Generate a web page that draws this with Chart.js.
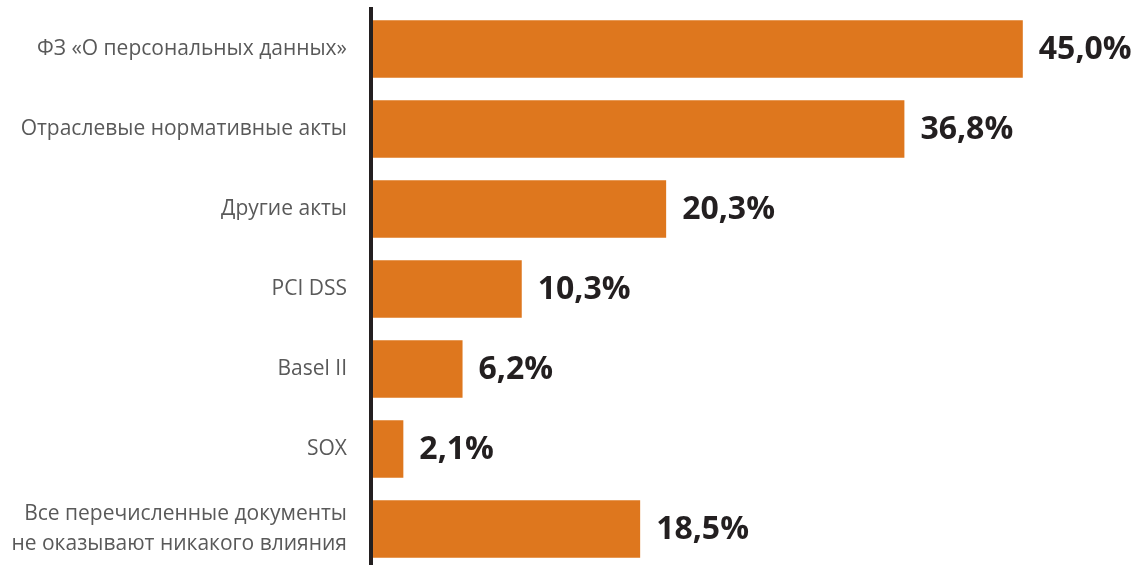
<!DOCTYPE html>
<html lang="ru">
<head>
<meta charset="utf-8">
<script src="https://cdn.jsdelivr.net/npm/chart.js@4"></script>
<style>
  html, body { margin: 0; padding: 0; background: #fff; overflow: hidden; }
  #wrap { width: 1140px; height: 569px; }
</style>
</head>
<body>
<div id="wrap"><canvas id="chart" width="1140" height="569"></canvas></div>
<script>
// Categories and shares (%)
const categories = [
  "ФЗ «О персональных данных»",
  "Отраслевые нормативные акты",
  "Другие акты",
  "PCI DSS",
  "Basel II",
  "SOX",
  ["Все перечисленные документы", "не оказывают никакого влияния"],
]
const shares = [45.0, 36.8, 20.3, 10.3, 6.2, 2.1, 18.5]

const BAR_COLOR = "#DE771E"
const TEXT_DARK = "#231F20"
const LABEL_GRAY = "#595959"

// "45,0%" style
const formatShare = (v) => `${v.toFixed(1).replace(".", ",")}%`

// Bold value next to the end of each bar
const valueLabels = {
  id: "valueLabels",
  afterDatasetsDraw(chart) {
    const { ctx } = chart
    const meta = chart.getDatasetMeta(0)
    ctx.save()
    ctx.font = "bold 32px 'Open Sans'"
    ctx.fillStyle = TEXT_DARK
    ctx.textAlign = "left"
    ctx.textBaseline = "middle"
    meta.data.forEach((bar, i) => {
      ctx.fillText(formatShare(shares[i]), bar.x + 16, bar.y + 1)
    })
    ctx.restore()
  },
}

new Chart(document.getElementById("chart"), {
  type: "bar",
  data: {
    labels: categories,
    datasets: [
      {
        data: shares,
        backgroundColor: BAR_COLOR,
        borderWidth: 0,
        categoryPercentage: 1,
        barPercentage: 0.72,
      },
    ],
  },
  options: {
    indexAxis: "y",
    responsive: false,
    animation: false,
    layout: { padding: { top: 9, right: 45, bottom: 0, left: 0 } },
    plugins: {
      legend: { display: false },
      tooltip: { enabled: false },
    },
    scales: {
      x: {
        display: false,
        // slightly below zero so bars start just right of the thick axis line
        min: -0.14,
        max: 50,
      },
      y: {
        afterFit: (scale) => {
          // fixed label column, no extra room above/below the bars
          scale.width = 371
          scale.paddingTop = 0
          scale.paddingBottom = 0
        },
        grid: { display: false, drawTicks: false },
        border: { display: true, color: TEXT_DARK, width: 4, z: 1 },
        ticks: {
          padding: 24,
          color: LABEL_GRAY,
          font: { family: "'Open Sans'", size: 21, lineHeight: 1.4 },
        },
      },
    },
  },
  plugins: [valueLabels],
})
</script>
</body>
</html>
